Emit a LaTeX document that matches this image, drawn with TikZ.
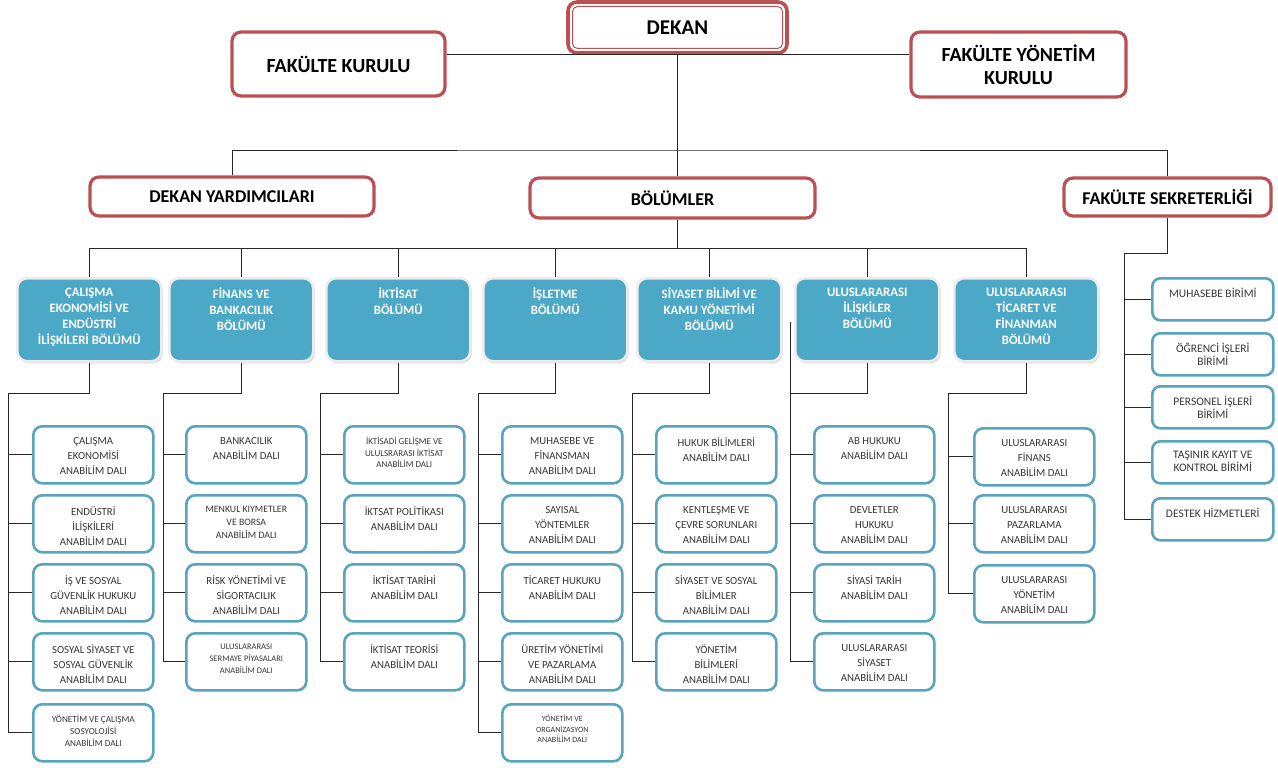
\documentclass[tikz,border=0pt]{standalone}
\usepackage{fontspec}
\setmainfont{Carlito}
\usetikzlibrary{shadows}
\definecolor{redc}{RGB}{187,80,82}
\definecolor{tealc}{RGB}{75,168,198}
\definecolor{subc}{RGB}{88,164,190}
\definecolor{txtc}{RGB}{55,55,55}
\definecolor{linec}{RGB}{40,40,40}
\newcommand{\subb}[6]{%
  \node[subbox, anchor=north west] (#1) at (#2,#3) {};
  \node[subtxt, font=\fontsize{#4}{#5}\selectfont, anchor=north] (#1t) at ([yshift=-12pt]#1.north) {#6};}
\newcommand{\unitb}[3]{%
  \node[unitbox, anchor=north west] (#1) at (1151,#2) {};
  \node[subtxt, font=\fontsize{11.5}{13}\selectfont, anchor=north] (#1t) at ([yshift=-11pt]#1.north) {#3};}
\newcommand{\deptb}[3]{%
  \node[deptbox, anchor=north west] (#1) at (#2,277) {};
  \node[depttxt, anchor=north] (#1t) at ([yshift=-11pt]#1.north) {#3};}
\begin{document}
\begin{tikzpicture}[x=1pt,y=-1pt,
  redbox/.style={draw=redc, line width=3.2pt, rounded corners=9pt, fill=white, inner sep=0pt, align=center, font=\bfseries\fontsize{18}{23}\selectfont, text=black},
  deptbox/.style={fill=tealc, draw=gray!15, line width=2.5pt, rounded corners=10pt, minimum width=144pt, minimum height=83pt, inner sep=0pt, drop shadow={shadow xshift=1.5pt, shadow yshift=-2pt, opacity=0.3}},
  depttxt/.style={text=white, font=\bfseries\fontsize{12.8}{16}\selectfont, align=center, inner sep=0pt},
  subbox/.style={draw=subc, line width=2.6pt, rounded corners=9pt, fill=white, minimum width=120pt, minimum height=57pt, inner sep=0pt},
  unitbox/.style={draw=subc, line width=2.6pt, rounded corners=8pt, fill=white, minimum width=121pt, minimum height=42pt, inner sep=0pt},
  subtxt/.style={text=txtc, align=center, inner sep=0pt},
  conn/.style={draw=linec, line width=1pt}]
\fill[white] (0,0) rectangle (1278,768);
\useasboundingbox (0,0) rectangle (1278,768);

% ---- top level ----
\node[redbox, line width=3.6pt, minimum width=219pt, minimum height=51pt] (dekan) at (677.5,27.5) {};
\node[draw=redc, line width=1pt, rounded corners=5pt, minimum width=210pt, minimum height=42pt, inner sep=0pt, font=\bfseries\fontsize{21}{24}\selectfont] (dekanin) at (dekan.center) {DEKAN};
\node[redbox, font=\bfseries\fontsize{20}{23}\selectfont, minimum width=213pt, minimum height=64pt] (fk) at (338.5,64) {FAKÜLTE KURULU};
\node[redbox, font=\bfseries\fontsize{20}{23}\selectfont, minimum width=215pt, minimum height=65pt] (fyk) at (1018.5,64.5) {FAKÜLTE YÖNETİM\\KURULU};
\node[redbox, minimum width=284pt, minimum height=39pt] (dy) at (232,196.5) {DEKAN YARDIMCILARI};
\node[redbox, minimum width=285pt, minimum height=40pt] (bol) at (672.5,198) {BÖLÜMLER};
\node[redbox, minimum width=207pt, minimum height=38pt] (fs) at (1167.5,197) {FAKÜLTE SEKRETERLİĞİ};

\coordinate (k) at (677.5,55);
\draw[conn] (fk.east |- k) -- (fyk.west |- k);
\draw[conn] (dekan.south) -- (dekan.south |- bol.north);
\coordinate (h1) at (677.5,150);
\draw[conn] (dy.north) |- (h1) -| (fs.north);

% ---- departments ----
\deptb{d1}{16}{ÇALIŞMA\\EKONOMİSİ VE\\ENDÜSTRİ\\İLİŞKİLERİ BÖLÜMÜ}
\deptb{d2}{168}{FİNANS VE\\BANKACILIK\\BÖLÜMÜ}
\deptb{d3}{325}{İKTİSAT\\BÖLÜMÜ}
\deptb{d4}{482}{İŞLETME\\BÖLÜMÜ}
\deptb{d5}{636}{SİYASET BİLİMİ VE\\KAMU YÖNETİMİ\\BÖLÜMÜ}
\deptb{d6}{794}{ULUSLARARASI\\İLİŞKİLER\\BÖLÜMÜ}
\deptb{d7}{953}{ULUSLARARASI\\TİCARET VE\\FİNANMAN\\BÖLÜMÜ}

\coordinate (hb) at (677.5,248);
\draw[conn] (dekan.south |- bol.south) -- (hb);
\foreach \d in {d1,d2,d3,d4,d5,d6,d7} { \draw[conn] (hb) -| (\d.north); }

% ---- spines ----
\coordinate (s1) at (8,393);
\coordinate (s2) at (163,393);
\coordinate (s3) at (320,393);
\coordinate (s4) at (478,393);
\coordinate (s5) at (632,393);
\coordinate (s6) at (790,393);
\coordinate (s6a) at (790,322);
\coordinate (s7) at (948,393);
\draw[conn] (d1.south) |- (s1);
\draw[conn] (d2.south) |- (s2);
\draw[conn] (d3.south) |- (s3);
\draw[conn] (d4.south) |- (s4);
\draw[conn] (d5.south) |- (s5);
\draw[conn] (d6.south) |- (s6);
\draw[conn] (d7.south) |- (s7);

% column 1
\subb{b11}{32}{425}{10.8}{15}{ÇALIŞMA\\EKONOMİSİ\\ANABİLİM DALI}
\subb{b12}{32}{494}{10.8}{15}{ENDÜSTRİ\\İLİŞKİLERİ\\ANABİLİM DALI}
\subb{b13}{32}{563}{10.8}{15}{İŞ VE SOSYAL\\GÜVENLİK HUKUKU\\ANABİLİM DALI}
\subb{b14}{32}{632}{10.8}{15}{SOSYAL SİYASET VE\\SOSYAL GÜVENLİK\\ANABİLİM DALI}
\subb{b15}{32}{703}{9.2}{12}{YÖNETİM VE ÇALIŞMA\\SOSYOLOJİSİ\\ANABİLİM DALI}
% column 2
\subb{b21}{185}{425}{10.8}{15}{BANKACILIK\\ANABİLİM DALI}
\subb{b22}{185}{494}{9.8}{13}{MENKUL KIYMETLER\\VE BORSA\\ANABİLİM DALI}
\subb{b23}{185}{563}{10.8}{15}{RİSK YÖNETİMİ VE\\SİGORTACILIK\\ANABİLİM DALI}
\subb{b24}{185}{632}{8.5}{12}{ULUSLARARASI\\SERMAYE PİYASALARI\\ANABİLİM DALI}
% column 3
\subb{b31}{343}{425}{9}{11.5}{İKTİSADİ GELİŞME VE\\ULULSRARASI İKTİSAT\\ANABİLİM DALI}
\subb{b32}{343}{494}{10.8}{15}{İKTSAT POLİTİKASI\\ANABİLİM DALI}
\subb{b33}{343}{563}{10.8}{15}{İKTİSAT TARİHİ\\ANABİLİM DALI}
\subb{b34}{343}{632}{10.8}{15}{İKTİSAT TEORİSİ\\ANABİLİM DALI}
% column 4
\subb{b41}{501}{425}{10.8}{15}{MUHASEBE VE\\FİNANSMAN\\ANABİLİM DALI}
\subb{b42}{501}{494}{10.8}{15}{SAYISAL\\YÖNTEMLER\\ANABİLİM DALI}
\subb{b43}{501}{563}{10.8}{15}{TİCARET HUKUKU\\ANABİLİM DALI}
\subb{b44}{501}{632}{10.8}{15}{ÜRETİM YÖNETİMİ\\VE PAZARLAMA\\ANABİLİM DALI}
\subb{b45}{501}{703}{8}{10.5}{YÖNETİM VE\\ORGANİZASYON\\ANABİLİM DALI}
% column 5
\subb{b51}{655}{425}{10.8}{15}{HUKUK BİLİMLERİ\\ANABİLİM DALI}
\subb{b52}{655}{494}{10.8}{15}{KENTLEŞME VE\\ÇEVRE SORUNLARI\\ANABİLİM DALI}
\subb{b53}{655}{563}{10.8}{15}{SİYASET VE SOSYAL\\BİLİMLER\\ANABİLİM DALI}
\subb{b54}{655}{632}{10.8}{15}{YÖNETİM\\BİLİMLERİ\\ANABİLİM DALI}
% column 6
\subb{b61}{813}{425}{10.8}{15}{AB HUKUKU\\ANABİLİM DALI}
\subb{b62}{813}{494}{10.8}{15}{DEVLETLER\\HUKUKU\\ANABİLİM DALI}
\subb{b63}{813}{563}{10.8}{15}{SİYASİ TARİH\\ANABİLİM DALI}
\subb{b64}{813}{632}{10.8}{15}{ULUSLARARASI\\SİYASET\\ANABİLİM DALI}
% column 7
\subb{b71}{973}{427}{10.8}{15}{ULUSLARARASI\\FİNANS\\ANABİLİM DALI}
\subb{b72}{973}{494}{10.8}{15}{ULUSLARARASI\\PAZARLAMA\\ANABİLİM DALI}
\subb{b73}{973}{564}{10.8}{15}{ULUSLARARASI\\YÖNETİM\\ANABİLİM DALI}

\foreach \b in {b11,b12,b13,b14,b15} { \draw[conn] (s1) |- (\b.west); }
\foreach \b in {b21,b22,b23,b24} { \draw[conn] (s2) |- (\b.west); }
\foreach \b in {b31,b32,b33,b34} { \draw[conn] (s3) |- (\b.west); }
\foreach \b in {b41,b42,b43,b44,b45} { \draw[conn] (s4) |- (\b.west); }
\foreach \b in {b51,b52,b53,b54} { \draw[conn] (s5) |- (\b.west); }
\foreach \b in {b61,b62,b63,b64} { \draw[conn] (s6a) |- (\b.west); }
\foreach \b in {b71,b72,b73} { \draw[conn] (s7) |- (\b.west); }

% ---- secretariat units ----
\unitb{u1}{277}{MUHASEBE BİRİMİ}
\unitb{u2}{332}{ÖĞRENCİ İŞLERİ\\BİRİMİ}
\unitb{u3}{385}{PERSONEL İŞLERİ\\BİRİMİ}
\unitb{u4}{440}{TAŞINIR KAYIT VE\\KONTROL BİRİMİ}
\unitb{u5}{497}{DESTEK HİZMETLERİ}
\coordinate (ss) at (1124,253);
\draw[conn] (fs.south) |- (ss);
\foreach \u in {u1,u2,u3,u4,u5} { \draw[conn] (ss) |- (\u.west); }
\end{tikzpicture}
\end{document}
